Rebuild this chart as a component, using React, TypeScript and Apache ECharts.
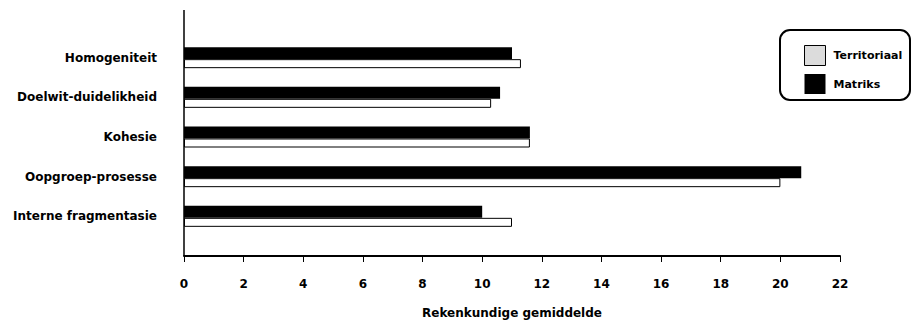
import React, { useEffect, useRef } from "react";
import * as echarts from "echarts";

// Categories listed bottom-to-top as they appear on the value chart
const categories = [
  "Interne fragmentasie",
  "Oopgroep-prosesse",
  "Kohesie",
  "Doelwit-duidelikheid",
  "Homogeniteit",
];
const territoriaal = [11.0, 20.0, 11.6, 10.3, 11.3];
const matriks = [10.0, 20.7, 11.6, 10.6, 11.0];
const xTicks = { min: 0, max: 22, interval: 2 };
const xTitle = "Rekenkundige gemiddelde";
const seriesNames = ["Territoriaal", "Matriks"];

const FONT = "DejaVu Sans";

export default function App() {
  const ref = useRef<HTMLDivElement>(null);

  useEffect(() => {
    document.body.style.margin = "0";
    if (!ref.current) return;
    const chart = echarts.init(ref.current, null, { renderer: "svg" });

    // pad with an empty slot at each end so the groups sit between the axis ends
    const yData = ["", ...categories, ""];
    const pad = (arr: number[]) => [null, ...arr, null];

    chart.setOption({
      animation: false,
      backgroundColor: "#fff",
      textStyle: { fontFamily: FONT, color: "#000" },
      grid: { left: 184, top: 18, width: 656, bottom: 68, containLabel: false },
      legend: {
        orient: "vertical",
        left: 799,
        top: 40,
        itemWidth: 21,
        itemHeight: 20,
        itemGap: 8,
        icon: "rect",
        textStyle: { fontFamily: FONT, fontSize: 11, fontWeight: "bold", color: "#000", padding: [0, 0, 0, 3] },
        data: [
          { name: seriesNames[0], itemStyle: { color: "#dcdcdc", borderColor: "#000", borderWidth: 1 } },
          { name: seriesNames[1], itemStyle: { color: "#000" } },
        ],
      },
      xAxis: {
        type: "value",
        min: xTicks.min,
        max: xTicks.max,
        interval: xTicks.interval,
        name: xTitle,
        nameLocation: "middle",
        nameGap: 51,
        nameTextStyle: { fontFamily: FONT, fontSize: 12, fontWeight: "bold", color: "#000" },
        axisLine: { show: true, lineStyle: { color: "#000", width: 2 } },
        axisTick: { show: true, length: 6, lineStyle: { color: "#000", width: 1 } },
        axisLabel: { margin: 22, fontFamily: FONT, fontSize: 12, fontWeight: "bold", color: "#000" },
        splitLine: { show: false },
      },
      yAxis: {
        type: "category",
        data: yData,
        boundaryGap: false,
        axisLine: { show: false },
        axisTick: { show: false },
        axisLabel: { margin: 27, fontFamily: FONT, fontSize: 12, fontWeight: "bold", color: "#000" },
        splitLine: { show: false },
      },
      series: [
        {
          name: seriesNames[1],
          type: "bar",
          data: pad(matriks),
          barWidth: 12,
          barGap: "0%",
          itemStyle: { color: "#000" },
        },
        {
          name: seriesNames[0],
          type: "bar",
          data: pad(territoriaal),
          barWidth: 9,
          barGap: "0%",
          itemStyle: { color: "#fff", borderColor: "#000", borderWidth: 1 },
        },
      ],
      graphic: [
        {
          type: "line",
          shape: { x1: 184, y1: 10, x2: 184, y2: 256 },
          style: { stroke: "#000", lineWidth: 1.5 },
          z: 10,
        },
        {
          type: "rect",
          shape: { x: 780, y: 30, width: 130, height: 70, r: 10 },
          style: { fill: "none", stroke: "#000", lineWidth: 2 },
        },
      ],
    });

    return () => chart.dispose();
  }, []);

  return <div ref={ref} style={{ width: 911, height: 324 }} />;
}
